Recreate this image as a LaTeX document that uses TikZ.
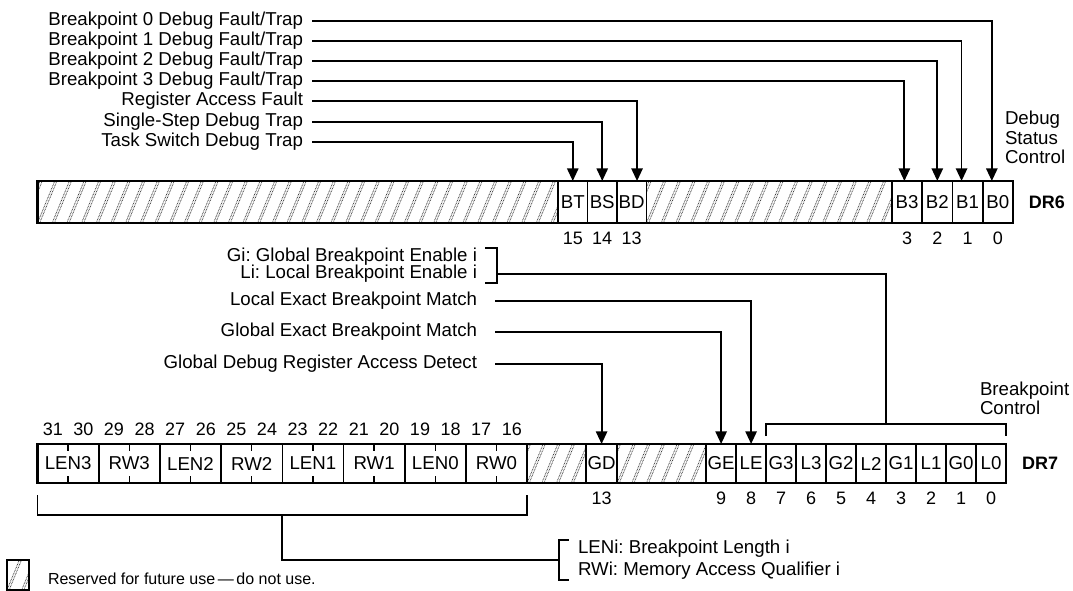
\documentclass[tikz,border=0pt]{standalone}
\usepackage{fontspec}
\setmainfont{Liberation Sans}
\usetikzlibrary{positioning,arrows.meta,calc}

\begin{document}
\frenchspacing
\begin{tikzpicture}[
    x=0.75pt, y=-0.75pt,
    every node/.style={inner sep=0pt, outer sep=0pt},
    lbl/.style={font=\fontsize{14}{16}\selectfont, anchor=east},
    num/.style={font=\fontsize{13.5}{15}\selectfont},
    regname/.style={font=\bfseries\fontsize{13.5}{15}\selectfont},
    ln/.style={line width=1.35pt},
    arr/.style={line width=1.35pt, -{Triangle[length=9.5pt, width=8.5pt]}},
    regline/.style={line width=1.8pt},
    hatchln/.style={black!75, line width=0.6pt, dash pattern=on 0.6pt off 0.6pt},
    cell/.style={draw, line width=1.2pt, minimum width=22.5pt, minimum height=31.5pt,
      font=\fontsize{14}{15}\selectfont},
    cellsev/.style={cell, minimum height=29.25pt},
    field/.style={cellsev, minimum width=45.9pt, path picture={
        \draw[line width=1pt] (path picture bounding box.north) -- ++(0,-5pt)
          (path picture bounding box.south) -- ++(0,5pt);}},
    reserved/.style={draw, line width=1.2pt, minimum height=31.5pt, path picture={
        \foreach \k in {-3,...,40}
          \draw[hatchln] ([xshift=\k*11pt]path picture bounding box.south west) -- ++(14pt,34pt)
            ([xshift=\k*11pt+1.6pt]path picture bounding box.south west) -- ++(14pt,34pt);}}
  ]
  \useasboundingbox (0,0) rectangle (1073,591);

  % DR6 labels
  \node[lbl] (bp0) at (303,21) {Breakpoint 0 Debug Fault/Trap};
  \node[lbl] (bp1) at (303,41) {Breakpoint 1 Debug Fault/Trap};
  \node[lbl] (bp2) at (303,61) {Breakpoint 2 Debug Fault/Trap};
  \node[lbl] (bp3) at (303,81) {Breakpoint 3 Debug Fault/Trap};
  \node[lbl] (raf) at (303,101) {Register Access Fault};
  \node[lbl] (ssd) at (303,122) {Single-Step Debug Trap};
  \node[lbl] (tsd) at (303,142) {Task Switch Debug Trap};

  % DR6 register
  \node[reserved, minimum width=390.4pt, anchor=west] (r6a) at (37.5,202) {};
  \node[cell, minimum width=22.1pt, right=0pt of r6a] (bt) {BT};
  \node[cell, minimum width=22.1pt, right=0pt of bt] (bs) {BS};
  \node[cell, minimum width=22.1pt, right=0pt of bs] (bd) {BD};
  \node[reserved, minimum width=184.1pt, right=0pt of bd] (r6b) {};
  \node[cell, minimum width=22.7pt, right=0pt of r6b] (b3) {B3};
  \node[cell, minimum width=22.7pt, right=0pt of b3] (b2) {B2};
  \node[cell, minimum width=22.7pt, right=0pt of b2] (b1) {B1};
  \node[cell, minimum width=22.7pt, right=0pt of b1] (b0) {B0};
  \draw[regline] (r6a.north west) rectangle (b0.south east);
  \node[regname, right=12pt of b0] (dr6) {DR6};
  \node[lbl, anchor=west, align=left, font=\fontsize{14}{14.6}\selectfont] (dsc) at (1005,137.5) {Debug\\Status\\Control};

  % DR6 bit numbers
  \node[num, below=7pt of bt] (n15) {15};
  \node[num, below=7pt of bs] (n14) {14};
  \node[num, below=7pt of bd] (n13) {13};
  \node[num, below=7pt of b3] (n3) {3};
  \node[num, below=7pt of b2] (n2) {2};
  \node[num, below=7pt of b1] (n1) {1};
  \node[num, below=7pt of b0] (n0) {0};

  % DR6 arrows
  \draw[arr] ([xshift=7pt]bp0.east) -| ([xshift=-4.5pt]b0.north);
  \draw[arr] ([xshift=7pt]bp1.east) -| ([xshift=-4.5pt]b1.north);
  \draw[arr] ([xshift=7pt]bp2.east) -| (b2.north);
  \draw[arr] ([xshift=7pt]bp3.east) -| ([xshift=-2pt]b3.north);
  \draw[arr] ([xshift=7pt]raf.east) -| ([xshift=4pt]bd.north);
  \draw[arr] ([xshift=7pt]ssd.east) -| (bs.north);
  \draw[arr] ([xshift=7pt]tsd.east) -| (bt.north);

  % DR7 labels
  \node[lbl] (gi) at (477,257) {Gi: Global Breakpoint Enable i};
  \node[lbl] (li) at (477,274) {Li: Local Breakpoint Enable i};
  \node[lbl] (lem) at (477,301) {Local Exact Breakpoint Match};
  \node[lbl] (gem) at (477,332) {Global Exact Breakpoint Match};
  \node[lbl] (gdr) at (477,364) {Global Debug Register Access Detect};

  % DR7 register
  \node[field, anchor=west] (len3) at (37.5,463.5) {LEN3};
  \node[field, right=0pt of len3] (rw3) {RW3};
  \node[field, right=0pt of rw3] (len2) {LEN2};
  \node[field, right=0pt of len2] (rw2) {RW2};
  \node[field, right=0pt of rw2] (len1) {LEN1};
  \node[field, right=0pt of len1] (rw1) {RW1};
  \node[field, right=0pt of rw1] (len0) {LEN0};
  \node[field, right=0pt of len0] (rw0) {RW0};
  \node[reserved, minimum width=44.25pt, minimum height=29.25pt, right=0pt of rw0] (r7a) {};
  \node[cellsev, minimum width=23.25pt, right=0pt of r7a] (gd) {GD};
  \node[reserved, minimum width=66.75pt, minimum height=29.25pt, right=0pt of gd] (r7b) {};
  \node[cellsev, right=0pt of r7b] (ge) {GE};
  \node[cellsev, right=0pt of ge] (le) {LE};
  \node[cellsev, right=0pt of le] (g3) {G3};
  \node[cellsev, right=0pt of g3] (l3) {L3};
  \node[cellsev, right=0pt of l3] (g2) {G2};
  \node[cellsev, right=0pt of g2] (l2) {L2};
  \node[cellsev, right=0pt of l2] (g1) {G1};
  \node[cellsev, right=0pt of g1] (l1) {L1};
  \node[cellsev, right=0pt of l1] (g0) {G0};
  \node[cellsev, right=0pt of g0] (l0) {L0};
  \draw[regline] (len3.north west) rectangle (l0.south east);
  \node[regname, right=12pt of l0] (dr7) {DR7};

  % DR7 bit numbers
  \node[num] (n31) at (52.8,429) {31};
  \node[num] (n30) at (83.4,429) {30};
  \node[num] (n29) at (114,429) {29};
  \node[num] (n28) at (144.6,429) {28};
  \node[num] (n27) at (175.2,429) {27};
  \node[num] (n26) at (205.8,429) {26};
  \node[num] (n25) at (236.4,429) {25};
  \node[num] (n24) at (267,429) {24};
  \node[num] (n23) at (297.6,429) {23};
  \node[num] (n22) at (328.2,429) {22};
  \node[num] (n21) at (358.8,429) {21};
  \node[num] (n20) at (389.4,429) {20};
  \node[num] (n19) at (420,429) {19};
  \node[num] (n18) at (450.6,429) {18};
  \node[num] (n17) at (481.2,429) {17};
  \node[num] (n16) at (511.8,429) {16};
  \node[num, below=7pt of gd] (m13) {13};
  \node[num, below=7pt of ge] (m9) {9};
  \node[num, below=7pt of le] (m8) {8};
  \node[num, below=7pt of g3] (m7) {7};
  \node[num, below=7pt of l3] (m6) {6};
  \node[num, below=7pt of g2] (m5) {5};
  \node[num, below=7pt of l2] (m4) {4};
  \node[num, below=7pt of g1] (m3) {3};
  \node[num, below=7pt of l1] (m2) {2};
  \node[num, below=7pt of g0] (m1) {1};
  \node[num, below=7pt of l0] (m0) {0};

  % DR7 arrows
  \draw[arr] ([xshift=13.5pt]lem.east) -| (le.north);
  \draw[arr] ([xshift=13.5pt]gem.east) -| (ge.north);
  \draw[arr] ([xshift=13.5pt]gdr.east) -| (gd.north);

  % Breakpoint control bracket
  \coordinate (bcl) at ([yshift=6pt]g3.north west);
  \coordinate (bcr) at ([yshift=6pt]l0.north east);
  \draw[ln] (bcl) -- ++(0,9pt) -| (bcr);
  \coordinate (bctop) at ($(bcl)!0.5!(bcr)+(0,9pt)$);
  \node[lbl, anchor=west, align=left, font=\fontsize{14}{14.6}\selectfont] (bpc) at (980,398.5) {Breakpoint\\Control};
  \draw[ln] ([xshift=6pt]gi.north east) -- ([xshift=15pt]gi.north east) |- ([xshift=6pt]li.south east);
  \draw[ln] ([xshift=15pt]li.east) -| (bctop);

  % LEN/RW bracket
  \coordinate (fbl) at ([yshift=-9pt]len3.south west);
  \coordinate (fbr) at ([yshift=-9pt]rw0.south east);
  \draw[ln] (fbl) -- ++(0,-15pt) -| (fbr);
  \node[lbl, anchor=west] (leni) at (578,549) {LENi: Breakpoint Length i};
  \node[lbl, anchor=west] (rwi) at (578,571) {RWi: Memory Access Qualifier i};
  \draw[ln] ([xshift=-7pt]leni.north west) -- ([xshift=-14pt]leni.north west) |- ([xshift=-7pt]rwi.south west);
  \coordinate (lenbr) at ($(leni.west)!0.5!(rwi.west)+(-14pt,0)$);
  \draw[ln] ($(fbl)!0.5!(fbr)+(0,-15pt)$) |- (lenbr);

  % Legend
  \node[reserved, line width=0.8pt, minimum width=16.5pt, minimum height=22.5pt, anchor=south west] (rsv) at (7,590) {};
  \node[anchor=west, font=\fontsize{12}{14}\selectfont] (rsvtxt) at (48,579) {Reserved for future use\,---\,do not use.};
\end{tikzpicture}
\end{document}
